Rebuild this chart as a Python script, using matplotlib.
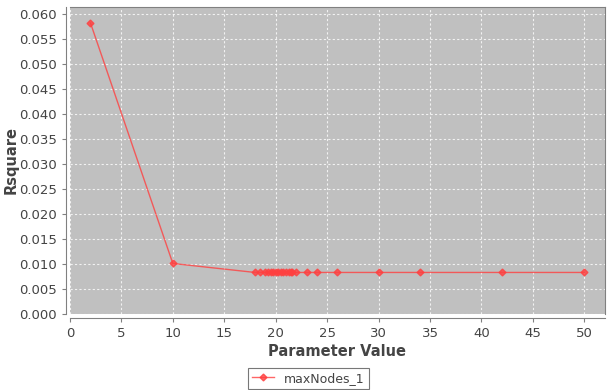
import matplotlib
matplotlib.use("Agg")
import matplotlib.pyplot as plt
from matplotlib.ticker import MultipleLocator, FormatStrFormatter

x_vals = [2, 10, 18, 18.5, 19, 19.25, 19.5, 19.75, 20, 20.25, 20.5, 20.75, 21, 21.25, 21.5, 21.6, 22, 23, 24, 26, 30, 34, 42, 50]
y_vals = [0.0582, 0.0101] + [0.0083] * 22
series_name = "maxNodes_1"

fig = plt.figure(figsize=(6.08, 3.9), dpi=100)
ax = fig.add_axes([0.115, 0.195, 0.88, 0.787])
ax.set_facecolor("#c0c0c0")
ax.plot(x_vals, y_vals, color="#ff4040", alpha=0.8, lw=1.0, marker="D", ms=3.5, mec="#ff4040", mfc="#ff4040")
ax.set_xlim(0, 52)
ax.set_ylim(0, 0.0614)
ax.xaxis.set_major_locator(MultipleLocator(5))
ax.yaxis.set_major_locator(MultipleLocator(0.005))
ax.yaxis.set_major_formatter(FormatStrFormatter("%.3f"))
ax.grid(True, color="white", ls=(0, (2, 2)), lw=0.8, alpha=0.8)
ax.set_axisbelow(True)
for s in ["top", "right"]:
    ax.spines[s].set_color("#808080")
for s in ["left", "bottom"]:
    ax.spines[s].set_color("#808080")
    ax.spines[s].set_position(("outward", 3))
ax.tick_params(colors="#444444", labelsize=9.5, length=3, width=0.8, color="#808080")
ax.set_xlabel("Parameter Value", fontsize=10.5, fontweight="bold", color="#444444", labelpad=3)
ax.set_ylabel("Rsquare", fontsize=10.5, fontweight="bold", color="#444444")
ax.yaxis.set_label_coords(-0.095, 0.5)
leg = fig.legend([ax.lines[0]], [series_name], loc="center", bbox_to_anchor=(0.507, 0.03),
                 fontsize=9, frameon=True, fancybox=False, edgecolor="#555555", handlelength=1.8,
                 borderpad=0.3, labelcolor="#444444")
leg.get_frame().set_linewidth(0.8)
fig.savefig("out.png", dpi=100)
